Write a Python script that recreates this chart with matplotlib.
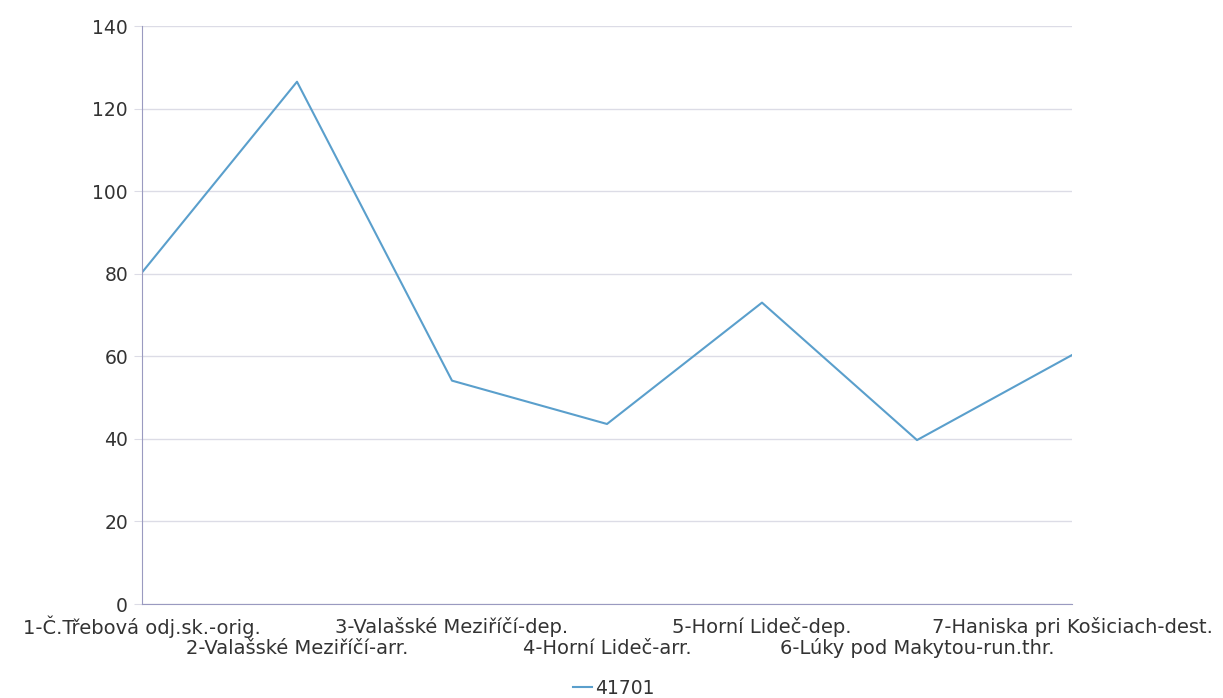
import matplotlib
matplotlib.use("Agg")
import matplotlib.pyplot as plt
from matplotlib.lines import Line2D

categories = ["1-Č.Třebová odj.sk.-orig.", "2-Valašské Meziříčí-arr.", "3-Valašské Meziříčí-dep.",
              "4-Horní Lideč-arr.", "5-Horní Lideč-dep.", "6-Lúky pod Makytou-run.thr.",
              "7-Haniska pri Košiciach-dest."]
values = [80.3, 126.5, 54.1, 43.6, 73.0, 39.7, 60.3]
series_name = "41701"
yticks = [0, 20, 40, 60, 80, 100, 120, 140]

W, H = 1223, 698
FS = 13.5
FS_CAT = 14
fig = plt.figure(figsize=(W/100, H/100), dpi=100)
ax = fig.add_axes([142/W, 1-604/H, (1072-142)/W, (604-26)/H])

line_color = "#5a9fcc"
x = list(range(len(categories)))
ax.plot(x, values, color=line_color, lw=1.5)
ax.set_xlim(0, len(categories)-1)
ax.set_ylim(0, 140)
ax.set_yticks(yticks)
ax.yaxis.grid(True, color="#dcdce6", lw=1)
ax.set_axisbelow(True)
for s in ["top", "right"]:
    ax.spines[s].set_visible(False)
ax.spines["left"].set_color("#9a9ac0")
ax.spines["bottom"].set_color("#9a9ac0")
ax.tick_params(axis="y", length=6, color="#dcdce6", labelsize=FS, labelcolor="#333333", pad=4)
ax.tick_params(axis="x", length=0)
ax.set_xticks(x)
ax.set_xticklabels([])
for i, c in enumerate(categories):
    xp = ax.transData.transform((i, 0))[0] / fig.dpi / fig.get_figwidth()
    fig.text(xp, 1-(627 if i % 2 == 0 else 648)/H, c,
             ha="center", va="center", fontsize=FS_CAT, color="#333333")

handle = Line2D([0], [0], color=line_color, lw=1.5)
fig.legend([handle], [series_name], loc="center", bbox_to_anchor=(614/W, 1-688/H),
           frameon=False, fontsize=FS, handlelength=1.0, handletextpad=0.2,
           labelcolor="#333333")

fig.savefig("out.png", dpi=100)
